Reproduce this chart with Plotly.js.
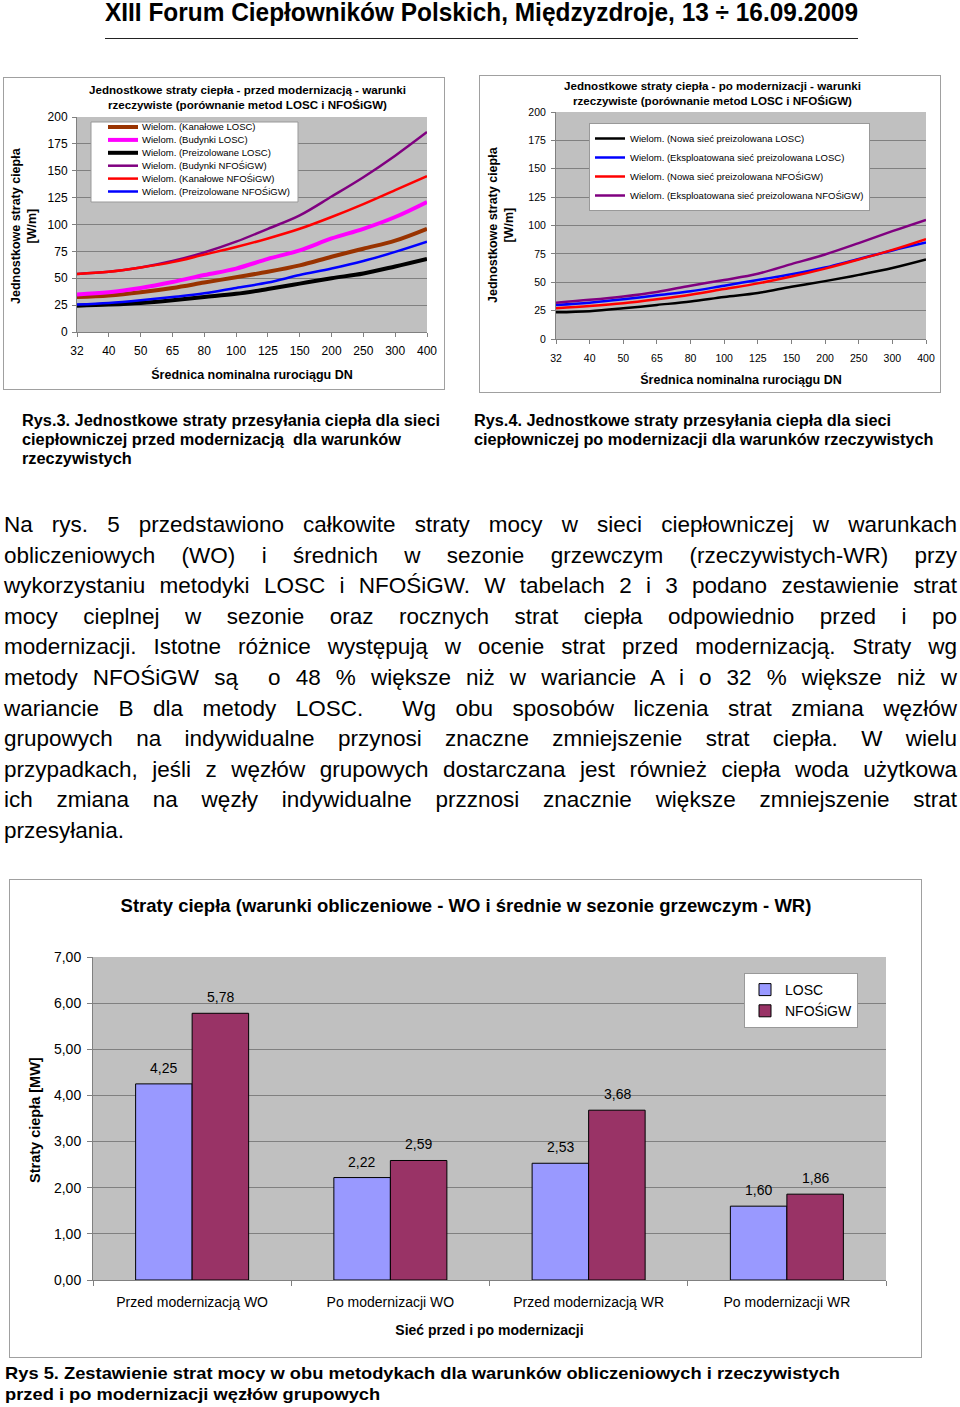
<!DOCTYPE html>
<html><head><meta charset="utf-8">
<script src="https://cdn.plot.ly/plotly-3.0.1.min.js"></script>
<style>
body{margin:0;background:#fff;width:960px;height:1407px;position:relative;overflow:hidden;font-family:"Liberation Sans",Arial,sans-serif;color:#000}
.abs{position:absolute}
.fit{white-space:nowrap;transform-origin:0 50%;display:inline-block}
.cap{font-weight:bold;font-size:16px;line-height:19px}
.cap5{font-weight:bold;font-size:17px;line-height:21px}
.txt{font-size:22.5px;}
.txt .ln{width:953px;white-space:nowrap;height:30.6px;line-height:30.6px}
.chart{position:absolute;outline:1px solid #a0a0a0}
</style></head><body>

<div class="abs" style="left:105px;top:-2px;height:28px;line-height:28px;font-size:25px;font-weight:bold"><span class="fit" data-w="753">XIII Forum Ciepłowników Polskich, Międzyzdroje, 13 ÷ 16.09.2009</span></div>
<div class="abs" style="left:105px;top:38px;width:753px;height:0;border-top:1.5px solid #222"></div>

<div id="c1" class="chart" style="left:4px;top:78px;width:440px;height:311px"></div>
<div id="c2" class="chart" style="left:480px;top:76px;width:460px;height:316px"></div>

<div class="abs cap fitblock" data-w="418" style="left:22px;top:411px">
<div><span class="fit">Rys.3. Jednostkowe straty przesyłania ciepła dla sieci</span></div>
<div><span class="fit">ciepłowniczej przed modernizacją&nbsp; dla warunków</span></div>
<div><span class="fit">rzeczywistych</span></div>
</div>
<div class="abs cap fitblock" data-w="417" style="left:474px;top:411px">
<div><span class="fit">Rys.4. Jednostkowe straty przesyłania ciepła dla sieci</span></div>
<div><span class="fit">ciepłowniczej po modernizacji dla warunków rzeczywistych</span></div>
</div>

<div class="abs txt" id="body" style="left:4px;top:510px">
<div class="ln"><span>Na rys. 5 przedstawiono całkowite straty mocy w sieci ciepłowniczej w warunkach</span></div>
<div class="ln"><span>obliczeniowych (WO) i średnich w sezonie grzewczym (rzeczywistych-WR) przy</span></div>
<div class="ln"><span>wykorzystaniu metodyki LOSC i NFOŚiGW. W tabelach 2 i 3 podano zestawienie strat</span></div>
<div class="ln"><span>mocy cieplnej w sezonie oraz rocznych strat ciepła odpowiednio przed i po</span></div>
<div class="ln"><span>modernizacji. Istotne różnice występują w ocenie strat przed modernizacją. Straty wg</span></div>
<div class="ln"><span>metody NFOŚiGW są&nbsp; o 48 % większe niż w wariancie A i o 32 % większe niż w</span></div>
<div class="ln"><span>wariancie B dla metody LOSC.&nbsp; Wg obu sposobów liczenia strat zmiana węzłów</span></div>
<div class="ln"><span>grupowych na indywidualne przynosi znaczne zmniejszenie strat ciepła. W wielu</span></div>
<div class="ln"><span>przypadkach, jeśli z węzłów grupowych dostarczana jest również ciepła woda użytkowa</span></div>
<div class="ln"><span>ich zmiana na węzły indywidualne przznosi znacznie większe zmniejszenie strat</span></div>
<div class="ln last"><span>przesyłania.</span></div>
</div>

<div id="c3" class="chart" style="left:10px;top:880px;width:911px;height:477px"></div>

<div class="abs cap5 fitblock" data-w="835" style="left:5px;top:1363px">
<div><span class="fit">Rys 5. Zestawienie strat mocy w obu metodykach dla warunków obliczeniowych i rzeczywistych</span></div>
<div><span class="fit">przed i po modernizacji węzłów grupowych</span></div>
</div>

<script>
// ---------- DATA ----------
const dn = ['32','40','50','65','80','100','125','150','200','250','300','400'];

// Rys.3 - przed modernizacją
const kanaloweLOSC      = [32.5, 34, 37, 41, 46, 51, 56, 62, 70, 77.5, 85, 96];
const budynkiLOSC       = [35, 37, 41, 46.5, 53, 59, 68, 76, 87, 96, 107, 121];
const preizolowaneLOSC  = [24.5, 25.5, 27, 29.5, 32.5, 35.5, 40, 45, 50, 54.5, 61, 68];
const budynkiNFOS       = [54, 56, 60, 66, 74, 84, 96, 108.5, 126, 144, 164, 186];
const kanaloweNFOS      = [54, 56, 60, 65, 72, 79, 87, 96, 107, 119, 132, 145];
const preizolowaneNFOS  = [25.5, 27, 29.5, 32.5, 36, 41, 46, 53, 59, 66, 74.5, 84];
const leftNames = ['Wielom. (Kanałowe LOSC)','Wielom. (Budynki LOSC)','Wielom. (Preizolowane LOSC)',
                   'Wielom. (Budynki NFOŚiGW)','Wielom. (Kanałowe NFOŚiGW)','Wielom. (Preizolowane NFOŚiGW)'];

// Rys.4 - po modernizacji
const nowaLOSC  = [23.5, 24.5, 27, 30, 33, 37, 40.5, 46, 51, 56.5, 62.5, 70];
const ekspLOSC  = [30, 32, 35, 38.5, 42, 47, 52, 57, 63, 70.5, 78, 85];
const nowaNFOS  = [27, 29, 31.5, 35, 39, 44, 49, 55, 62, 70, 78.5, 88];
const ekspNFOS  = [32, 34.5, 37.5, 41.5, 47, 52, 57.5, 66, 74.5, 84.5, 95, 105];
const rightNames = ['Wielom. (Nowa sieć preizolowana LOSC)','Wielom. (Eksploatowana sieć preizolowana LOSC)',
                    'Wielom. (Nowa sieć preizolowana NFOŚiGW)','Wielom. (Eksploatowana sieć preizolowana NFOŚiGW)'];

// Rys.5 - straty mocy [MW]
const barCats = ['Przed modernizacją WO','Po modernizacji WO','Przed modernizacją WR','Po modernizacji WR'];
const barLOSC = [4.25, 2.22, 2.53, 1.60];
const barNFOS = [5.78, 2.59, 3.68, 1.86];
const barNames = ['LOSC','NFOŚiGW'];

// ---------- STYLE ----------
const FONT = 'Liberation Sans, Arial, sans-serif';
const GRID = '#808080', PLOTBG = '#C0C0C0';

// ---------- LEFT CHART ----------
(function(){
  const series = [kanaloweLOSC, budynkiLOSC, preizolowaneLOSC, budynkiNFOS, kanaloweNFOS, preizolowaneNFOS];
  const colors = ['#993300','#FF00FF','#000000','#800080','#FF0000','#0000FF'];
  const widths = [4,4,4,2.5,2.5,2.5];
  const traces = series.map((s,i)=>({type:'scatter',mode:'lines',x:dn,y:s,name:leftNames[i],
    line:{color:colors[i],width:widths[i],shape:'spline',smoothing:1}}));
  const P = {x0:77,x1:427,y0:117,y1:332};
  const px = x=>(x-P.x0)/(P.x1-P.x0), py = y=>(P.y1-y)/(P.y1-P.y0);
  const shapes = [{type:'rect',xref:'paper',yref:'paper',x0:px(91),x1:px(298),y0:py(202),y1:py(122),
    fillcolor:'#fff',line:{color:'#999',width:1},layer:'above'}];
  const ann = [];
  leftNames.forEach((n,i)=>{
    const y = 127+i*12.9;
    shapes.push({type:'line',xref:'paper',yref:'paper',x0:px(108),x1:px(138),y0:py(y),y1:py(y),
      line:{color:colors[i],width:widths[i]},layer:'above'});
    ann.push({xref:'paper',yref:'paper',x:px(140),y:py(y),xanchor:'left',yanchor:'middle',showarrow:false,
      text:n,font:{size:9.5,family:FONT,color:'#000'}});
  });
  ann.push({xref:'paper',yref:'paper',x:px(24),y:py(225),xanchor:'center',yanchor:'middle',showarrow:false,textangle:-90,
    text:'<b>Jednostkowe straty ciepła</b><br><b>[W/m]</b>',font:{size:12.5,family:FONT,color:'#000'}});
  ann.push({xref:'paper',yref:'paper',x:px(247),y:py(96.5),xanchor:'center',yanchor:'middle',showarrow:false,
    text:'<b>Jednostkowe straty ciepła - przed modernizacją - warunki</b><br><b>rzeczywiste (porównanie metod LOSC i NFOŚiGW)</b>',
    font:{size:11.6,family:FONT,color:'#000'}});
  const layout = {
    width:440,height:311,margin:{l:73,r:17,t:39,b:57},
    paper_bgcolor:'#fff',plot_bgcolor:PLOTBG,showlegend:false,
    font:{family:FONT,color:'#000'},
    xaxis:{type:'category',range:[0,11],showgrid:false,showline:true,linecolor:GRID,ticks:'outside',ticklen:4,tickcolor:GRID,
      tickfont:{size:12},ticklabelstandoff:4,
      title:{text:'<b>Średnica nominalna rurociągu DN</b>',font:{size:12.5},standoff:12}},
    yaxis:{range:[0,200],tick0:0,dtick:25,gridcolor:GRID,zeroline:false,showline:true,linecolor:GRID,ticks:'outside',ticklen:4,tickcolor:GRID,
      tickfont:{size:12},ticklabelstandoff:2},
    shapes:shapes,annotations:ann
  };
  Plotly.newPlot('c1',traces,layout,{staticPlot:true});
})();

// ---------- RIGHT CHART ----------
(function(){
  const series = [nowaLOSC, ekspLOSC, nowaNFOS, ekspNFOS];
  const colors = ['#000000','#0000FF','#FF0000','#800080'];
  const traces = series.map((s,i)=>({type:'scatter',mode:'lines',x:dn,y:s,name:rightNames[i],
    line:{color:colors[i],width:2.5,shape:'spline',smoothing:1}}));
  const P = {x0:556,x1:926,y0:112,y1:339};
  const px = x=>(x-P.x0)/(P.x1-P.x0), py = y=>(P.y1-y)/(P.y1-P.y0);
  const layout = {
    width:460,height:316,margin:{l:76,r:14,t:36,b:53},
    paper_bgcolor:'#fff',plot_bgcolor:PLOTBG,
    font:{family:FONT,color:'#000'},
    showlegend:true,
    legend:{x:px(589),y:py(123),xanchor:'left',yanchor:'top',bgcolor:'#fff',bordercolor:'#999',borderwidth:1,
      font:{size:9.5,family:FONT,color:'#000'},itemwidth:30},
    xaxis:{type:'category',range:[0,11],showgrid:false,showline:true,linecolor:GRID,ticks:'outside',ticklen:4,tickcolor:GRID,
      tickfont:{size:10.5},ticklabelstandoff:5,
      title:{text:'<b>Średnica nominalna rurociągu DN</b>',font:{size:12.5},standoff:12}},
    yaxis:{range:[0,200],tick0:0,dtick:25,gridcolor:GRID,zeroline:false,showline:true,linecolor:GRID,ticks:'outside',ticklen:4,tickcolor:GRID,
      tickfont:{size:10.5},ticklabelstandoff:3},
    annotations:[{xref:'paper',yref:'paper',x:px(501),y:py(225),xanchor:'center',yanchor:'middle',showarrow:false,textangle:-90,
      text:'<b>Jednostkowe straty ciepła</b><br><b>[W/m]</b>',font:{size:12.5,family:FONT,color:'#000'}},
      {xref:'paper',yref:'paper',x:px(712),y:py(93),xanchor:'center',yanchor:'middle',showarrow:false,
      text:'<b>Jednostkowe straty ciepła - po modernizacji - warunki</b><br><b>rzeczywiste (porównanie metod LOSC i NFOŚiGW)</b>',
      font:{size:11.6,family:FONT,color:'#000'}}]
  };
  Plotly.newPlot('c2',traces,layout,{staticPlot:true});
})();

// ---------- BAR CHART ----------
(function(){
  const P = {x0:93,x1:886,y0:957,y1:1280};
  const px = x=>(x-P.x0)/(P.x1-P.x0), py = y=>(P.y1-y)/(P.y1-P.y0);
  const mk = (y,name,color)=>({type:'bar',x:barCats,y:y,name:name,marker:{color:color,line:{color:'#000',width:1}}});
  const traces = [mk(barLOSC,barNames[0],'#9999FF'), mk(barNFOS,barNames[1],'#993366')];
  const fmt = v=>v.toFixed(2).replace('.',',');
  const ann = [];
  barCats.forEach((c,i)=>{
    ann.push({x:c,y:barLOSC[i],xref:'x',yref:'y',xshift:-28.5,yshift:16,yanchor:'middle',showarrow:false,
      text:fmt(barLOSC[i]),font:{size:14,family:FONT,color:'#000'}});
    ann.push({x:c,y:barNFOS[i],xref:'x',yref:'y',xshift:28.5,yshift:16,yanchor:'middle',showarrow:false,
      text:fmt(barNFOS[i]),font:{size:14,family:FONT,color:'#000'}});
  });
  ann.push({xref:'paper',yref:'paper',x:px(35),y:py(1120),xanchor:'center',yanchor:'middle',showarrow:false,textangle:-90,
      text:'<b>Straty ciepła [MW]</b>',font:{size:14.5,family:FONT,color:'#000'}});
  const layout = {
    width:911,height:477,margin:{l:83,r:35,t:77,b:77},
    paper_bgcolor:'#fff',plot_bgcolor:PLOTBG,separators:', ',
    font:{family:FONT,color:'#000'},
    barmode:'group',bargap:0.43,bargroupgap:0,
    title:{text:'<b>Straty ciepła (warunki obliczeniowe - WO i średnie w sezonie grzewczym - WR)</b>',
      font:{size:18.5,family:FONT},x:px(466),xref:'paper',xanchor:'center',y:0.96,yref:'container',yanchor:'top'},
    showlegend:true,
    legend:{x:px(744),y:py(973),xanchor:'left',yanchor:'top',bgcolor:'#fff',bordercolor:'#999',borderwidth:1,
      font:{size:14,family:FONT,color:'#000'},itemwidth:30},
    xaxis:{showgrid:false,showline:true,linecolor:GRID,ticks:'outside',tickson:'boundaries',ticklen:5,tickcolor:GRID,
      tickfont:{size:14},ticklabelstandoff:9,
      title:{text:'<b>Sieć przed i po modernizacji</b>',font:{size:14},standoff:16}},
    yaxis:{range:[0,7],dtick:1,tickformat:'.2f',gridcolor:GRID,zeroline:false,showline:true,linecolor:GRID,ticks:'outside',ticklen:5,tickcolor:GRID,
      tickfont:{size:14},ticklabelstandoff:3},
    annotations:ann
  };
  Plotly.newPlot('c3',traces,layout,{staticPlot:true});
})();

// ---------- TEXT FITTING ----------
function fitText(){
  document.querySelectorAll('span.fit[data-w]').forEach(el=>{
    const w = el.getBoundingClientRect().width;
    el.style.transform = 'scaleX(' + (+el.dataset.w / w) + ')';
  });
  document.querySelectorAll('.fitblock').forEach(b=>{
    const spans = b.querySelectorAll('span.fit');
    const w = spans[0].getBoundingClientRect().width;
    const s = (+b.dataset.w) / w;
    spans.forEach(sp=>sp.style.transform='scaleX(' + s + ')');
  });
  const target = 953;
  document.querySelectorAll('#body .ln').forEach(ln=>{
    const sp = ln.firstElementChild;
    const w = sp.getBoundingClientRect().width;
    if(!ln.classList.contains('last')){
      const spaces = (sp.textContent.match(/[ \u00a0]/g)||[]).length;
      const ws = (target - w)/spaces;
      ln.style.wordSpacing = ws.toFixed(3)+'px';
    }
  });
}
if(document.fonts && document.fonts.ready){document.fonts.ready.then(fitText);} else fitText();
</script>
</body></html>
